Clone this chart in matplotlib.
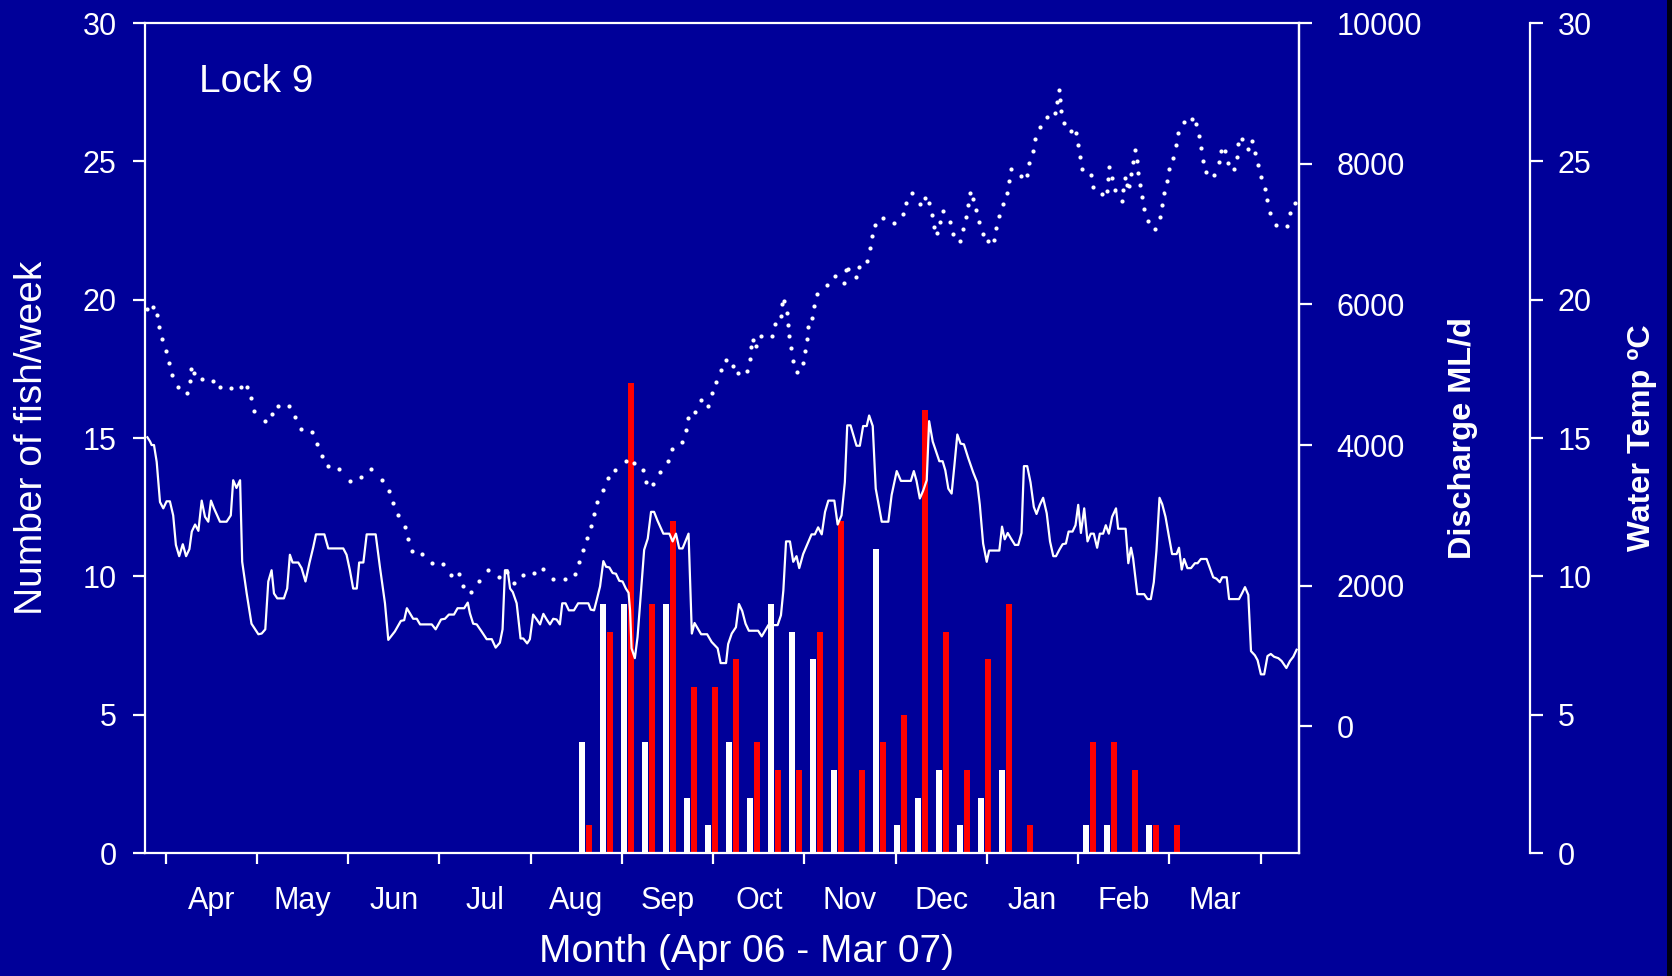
import matplotlib
matplotlib.use('Agg')
import matplotlib.pyplot as plt
from matplotlib.patches import Rectangle
from matplotlib.ticker import FixedLocator, NullFormatter

# ---------------- data ----------------
# day 0 = 1 April 2006
month_labels = ['Apr', 'May', 'Jun', 'Jul', 'Aug', 'Sep', 'Oct', 'Nov', 'Dec', 'Jan', 'Feb', 'Mar']

week_day = [138.8, 145.8, 152.8, 159.8, 166.8, 173.8, 180.8, 187.8, 194.8, 201.8,
            208.8, 215.8, 222.8, 229.8, 236.8, 243.8, 250.8, 257.8, 264.8, 271.8,
            278.8, 285.8, 292.8, 299.8, 306.8, 313.8, 320.8, 327.8, 334.8]
fish_white = [4, 9, 9, 4, 9, 2, 1, 4, 2, 9, 8, 7, 3, 0, 11, 1, 2, 3, 1, 2, 3, 0, 0, 0, 1, 1, 0, 1, 0]
fish_red = [1, 8, 17, 9, 12, 6, 6, 7, 4, 3, 3, 8, 12, 3, 4, 5, 16, 8, 3, 7, 9, 1, 0, 0, 4, 4, 3, 1, 1]

q_day = [-6.1, -5.2, -4.7, -3.9, -3.0, -1.9, -0.8, 0.3, 1.4, 2.5, 3.4, 4.5, 5.7, 6.8, 7.9, 8.7,
         9.8, 10.9, 12.0, 13.1, 14.2, 15.1, 16.1, 18.1, 20.3, 21.7, 22.5, 23.6, 24.8, 25.5, 27.0,
         28.6, 30.9, 32.0, 33.2, 34.2, 35.3, 36.1, 37.2, 39.4, 40.5, 41.4, 42.3, 44.2, 45.3, 46.6,
         47.9, 49.2, 50.1, 52.9, 54.2,
         59.2, 60.3, 61.4, 62.5, 63.7, 64.5, 65.9, 67.0, 70.0, 71.4, 73.1, 74.2, 76.4, 78.4, 79.5,
         80.4, 81.8, 82.5, 83.7, 84.8, 88.7, 90.0, 91.8, 93.1, 94.4, 96.1, 97.3, 99.5, 100.7, 101.4,
         102.5, 103.7, 105.3, 107.0, 108.7, 110.0, 111.4, 112.3, 113.1, 114.0, 114.8, 115.7, 117.0,
         118.3, 119.2, 120.5, 121.4, 122.5,
         123.7, 124.8, 125.9, 127.0, 128.1, 129.2, 130.3, 131.4, 132.2, 133.3, 134.4, 136.1, 137.5,
         140.9, 141.7, 142.8, 143.7, 144.8, 145.9, 146.8, 147.9, 149.0, 150.1, 151.2, 152.3, 153.4,
         154.3, 154.8, 155.3, 156.4, 157.3, 158.4, 159.5, 160.7, 161.8, 162.8, 163.9, 165.9, 167.9,
         169.0, 170.1, 171.2, 172.3, 174.3, 175.4, 176.3, 178.5, 180.5, 182.0, 184.0, 185.0, 186.8,
         187.5, 188.7, 190.1, 191.1, 192.2, 193.3, 194.4, 197.5, 198.7, 200.9, 204.0, 205.1, 205.9,
         206.8, 208.1, 209.2, 210.3, 211.2, 212.5, 215.3, 216.4, 217.5, 218.7, 219.8, 220.9, 222.9,
         224.0, 225.3, 226.4, 227.2, 228.3, 230.3, 231.4, 232.5, 233.7, 234.5, 235.7, 236.7, 238.7,
         240.9, 242.0, 243.7, 245.1, 248.4, 249.4, 250.3, 251.4,
         252.5, 253.7, 254.5, 255.7, 256.8, 257.9, 259.0, 259.9, 260.9, 262.0, 262.9, 263.9, 265.0,
         266.1, 267.5, 269.2, 270.5, 271.4, 272.5, 273.7, 274.5, 277.9, 278.8, 279.7, 280.7, 281.8,
         283.1, 284.2, 285.3, 286.1, 287.2, 288.3, 289.4, 290.3, 291.4, 292.5, 293.7, 294.8, 295.9,
         296.8, 297.9, 299.0, 300.1, 301.0, 302.3, 303.3, 304.2, 305.1, 306.2, 307.3, 308.4, 309.4,
         310.5, 311.4, 312.5, 313.4, 314.4, 315.5, 316.8,
         317.5, 320.0, 320.9, 321.8, 322.5, 323.9, 326.2, 327.3, 328.4, 329.4, 330.3, 331.3, 332.2,
         333.3, 334.4, 335.5, 337.0, 337.8, 338.7, 339.5, 340.6, 341.8, 343.1, 344.0, 345.1, 347.0,
         348.1, 349.2, 350.3, 351.4, 352.2, 353.7, 354.5, 357.8, 358.9, 359.8, 360.9, 361.8, 363.1,
         364.0, 365.1, 366.2, 367.3, 368.4, 369.5, 370.9, 372.0, 373.6, 374.8, 375.9, 377.0]
q_val = [4110, 4050, 4000, 4000, 3760, 3190, 3100, 3200, 3200, 3000, 2580, 2420, 2590, 2420, 2520, 2770,
         2870, 2780, 3210, 2980, 2910, 3210, 3100, 2910, 2910, 3000, 3500, 3390, 3500, 2340, 1890,
         1460, 1310, 1320, 1380, 2060, 2220, 1890, 1820, 1820, 1960, 2440, 2330, 2330, 2250, 2060,
         2320, 2550, 2730, 2730, 2530,
         2530, 2440, 2220, 1960, 1960, 2330, 2330, 2730, 2730, 2270, 1750, 1230, 1350, 1500, 1510,
         1680, 1580, 1530, 1530, 1450, 1450, 1380, 1520, 1530, 1590, 1590, 1680, 1680, 1760, 1610,
         1460, 1450, 1350, 1240, 1240, 1120, 1190, 1380, 2220, 2220, 1960, 1910, 1750,
         1250, 1250, 1180, 1240, 1590,
         1520, 1450, 1600, 1520, 1450, 1530, 1520, 1450, 1750, 1750, 1650, 1650, 1750,
         1750, 1660, 1650, 1800, 1990, 2350, 2270, 2260, 2180, 2170, 2070, 2060, 1960,
         1900, 1650, 1110, 970, 1270, 1890, 2510, 2670, 3050, 3050, 2930, 2740, 2740,
         2630, 2740, 2530, 2530, 2740, 1320, 1470, 1310, 1310, 1200, 1110, 900, 900,
         1170, 1320, 1410, 1740, 1640, 1460, 1360, 1360, 1280, 1440, 1440, 1580, 1930,
         2630, 2630, 2340, 2420, 2250, 2450, 2730, 2730, 2830, 2730, 3050, 3210, 3210,
         2870, 3000, 3470, 4280, 4280, 3990, 3990, 4270, 4270, 4420, 4270, 3380, 2910,
         2910, 3290, 3630, 3490, 3490, 3630, 3490, 3240,
         3350, 3500, 4340, 4050, 3910, 3770, 3770, 3640, 3380, 3310, 3700, 4150, 4020,
         4010, 3820, 3610, 3470, 3150, 2600, 2340, 2500, 2500, 2840, 2660, 2750, 2670,
         2580, 2580, 2750, 3700, 3700, 3470, 3120, 3020, 3150, 3250, 3030, 2630, 2420,
         2420, 2510, 2590, 2600, 2770, 2770, 2860, 3150, 2750, 3100, 2630, 2740, 2740,
         2540, 2740, 2740, 2860, 2740, 2980, 3100,
         2810, 2810, 2320, 2540, 2390, 1880, 1880, 1810, 1810, 2050, 2510, 3250, 3160,
         2980, 2710, 2450, 2450, 2540, 2230, 2380, 2250, 2250, 2320, 2320, 2380, 2380,
         2250, 2120, 2100, 2050, 2120, 2120, 1810, 1810, 1900, 1980, 1870, 1070, 1010,
         940, 740, 740, 1000, 1030, 990, 970, 930, 830, 930, 990, 1090]

t_day = [-6.1, -4.1, -3.0, -2.2, -1.2, 0.0, 1.1, 2.2, 4.1, 7.0, 8.1, 8.5, 9.4, 12.1, 15.7, 18.1,
         21.7, 25.0, 27.2, 28.4, 29.5, 33.1, 35.4, 37.4, 41.2, 43.0, 45.2, 48.9, 50.5, 52.0, 54.0,
         57.9, 61.3, 65.2, 68.4, 72.0, 74.4, 75.7, 77.5, 79.8, 80.9, 82.1, 85.5, 88.9, 92.5, 95.2,
         97.9, 99.2, 101.8, 104.4, 107.4, 111.2, 113.7, 116.2, 119.0,
         122.8, 125.9, 129.2, 133.1, 136.4, 137.9, 139.2, 140.5, 141.9, 142.9, 143.7, 145.7, 147.5,
         149.8, 153.4, 156.2, 159.0, 160.1, 162.5, 164.7, 167.4, 168.9, 172.2, 173.3, 174.2, 176.4,
         178.3, 180.9, 182.2, 183.3, 185.0,
         186.8, 189.2, 190.9, 193.7, 194.7, 195.1, 195.7, 196.7, 198.3, 202.0, 203.1, 205.1, 205.5,
         206.2, 207.0, 207.5, 207.9, 208.4, 209.1, 210.3, 212.3, 213.1, 213.7, 214.2, 215.5, 216.2,
         217.2, 220.3, 223.1, 226.1, 226.8, 227.5, 230.0, 231.2, 233.8, 234.8, 235.4, 236.5, 239.1,
         242.8, 245.7, 246.7, 248.7,
         251.4, 253.1, 254.5, 255.3, 256.0, 257.1, 258.1, 259.1, 261.3, 262.3, 264.7, 265.8, 266.7,
         267.4, 268.0, 269.0, 270.0, 271.1, 272.5, 274.2, 276.0, 276.9, 277.8, 279.1, 280.3, 281.0,
         281.9, 285.2, 287.0, 287.8, 289.0, 289.9, 291.3, 293.7, 296.4, 297.1, 297.7, 298.0, 298.5,
         299.3, 301.8, 303.4, 304.1, 304.8, 305.5, 308.4, 309.1, 312.0, 313.8, 314.2, 314.5, 315.4,
         316.5,
         318.7, 319.2, 319.8, 320.3, 321.1, 321.9, 322.5, 323.1, 323.8, 324.1, 324.7, 325.3, 326.1,
         327.4, 329.7, 331.3, 332.0, 332.8, 333.8, 334.3, 335.9, 336.7, 337.4, 339.3, 342.2, 343.5,
         344.3, 345.1, 345.8, 346.8, 349.6, 351.0, 351.9, 353.0, 354.1, 356.1, 357.0, 357.4, 358.8,
         360.9, 362.0, 363.0, 364.2, 365.3, 366.5, 367.2, 368.1, 370.2, 373.8, 374.8, 376.5]
t_val = [19.68, 19.72, 19.44, 19.01, 18.57, 18.15, 17.70, 17.27, 16.85, 16.62, 17.05, 17.49, 17.36,
         17.14, 17.05, 16.84, 16.81, 16.86, 16.86, 16.43, 15.99, 15.62, 15.87, 16.15, 16.17, 15.75,
         15.32, 15.21, 14.79, 14.35, 14.00,
         13.88, 13.46, 13.59, 13.87, 13.50, 13.09, 12.65, 12.22, 11.78, 11.36, 10.92, 10.82, 10.47,
         10.46, 10.05, 10.08, 9.66, 9.42, 9.84, 10.23, 9.96, 10.17, 9.75, 10.05,
         10.13, 10.25, 9.90, 9.90, 10.08, 10.51, 10.94, 11.37, 11.81, 12.24, 12.68, 13.11, 13.55,
         13.86, 14.18, 14.11, 13.86, 13.42, 13.35, 13.78, 14.18, 14.62, 14.86, 15.29, 15.72, 15.93,
         16.39, 16.17, 16.61, 17.04, 17.47,
         17.83, 17.60, 17.34, 17.43, 17.85, 18.30, 18.56, 18.34, 18.67, 18.67, 19.11, 19.41, 19.85,
         19.97, 19.52, 19.10, 18.67, 18.24, 17.80, 17.38, 17.71, 18.15, 18.58, 19.01, 19.35, 19.78,
         20.20, 20.53, 20.84, 20.62, 21.06, 21.12, 20.81, 21.19, 21.41, 21.86, 22.29, 22.71, 22.96,
         22.77, 23.08, 23.50, 23.85,
         23.44, 23.69, 23.50, 23.07, 22.64, 22.40, 22.82, 23.20, 22.79, 22.36, 22.12, 22.55, 22.98,
         23.41, 23.85, 23.64, 23.23, 22.80, 22.39, 22.11, 22.14, 22.58, 23.01, 23.44, 23.86, 24.29,
         24.74, 24.46, 24.49, 24.93, 25.36, 25.79, 26.23, 26.60, 26.74, 27.15, 27.59, 27.23, 26.81,
         26.38, 26.11, 26.02, 25.59, 25.15, 24.72, 24.50, 24.07, 23.82, 23.94, 24.37, 24.81, 24.41,
         23.98,
         23.56, 23.98, 24.41, 24.15, 24.12, 24.54, 24.99, 25.40, 25.00, 24.57, 24.15, 23.70, 23.27,
         22.83, 22.55, 22.98, 23.41, 23.85, 24.28, 24.72, 25.13, 25.58, 26.01, 26.42, 26.52, 26.35,
         25.90, 25.47, 25.03, 24.60, 24.52, 24.96, 25.39, 25.37, 24.94, 24.74, 25.17, 25.61, 25.79,
         25.45, 25.73, 25.31, 24.88, 24.44, 24.01, 23.59, 23.14, 22.71, 22.68, 23.13, 23.51]

fish_ticks = [0, 5, 10, 15, 20, 25, 30]
q_ticks = [0, 2000, 4000, 6000, 8000, 10000]
temp_ticks = [0, 5, 10, 15, 20, 25, 30]

# ---------------- style ----------------
BG = '#000099'
FG = 'white'
plt.rcParams['font.family'] = ['Liberation Sans', 'DejaVu Sans']
LW = 1.6

fig = plt.figure(figsize=(16.72, 9.76), dpi=100, facecolor=BG)
ax = fig.add_axes([0.08672, 0.12602, 0.69019, 0.85041])
ax.set_facecolor(BG)

# bars
ax.bar([d for d in week_day], fish_white, width=1.9, color='white', linewidth=0, zorder=2)
ax.bar([d + 2.22 for d in week_day], fish_red, width=1.9, color='#ff0000', linewidth=0, zorder=2)

ax.set_xlim(-6.9, 377.8)
ax.set_ylim(0, 30)
ax.set_yticks(fish_ticks)
ax.tick_params(axis='y', colors=FG, labelsize=22, length=8.5, width=LW, pad=12, direction='out')

month_len = 365 / 12
ax.xaxis.set_major_locator(FixedLocator([k * month_len for k in range(13)]))
ax.xaxis.set_major_formatter(NullFormatter())
ax.xaxis.set_minor_locator(FixedLocator([(k + 0.5) * month_len for k in range(12)]))
ax.set_xticklabels(month_labels, minor=True)
ax.tick_params(axis='x', which='major', colors=FG, length=8, width=LW, direction='out')
ax.tick_params(axis='x', which='minor', colors=FG, length=0, labelsize=22, pad=24)
for s in ax.spines.values():
    s.set_color(FG)
    s.set_linewidth(LW)

ax.set_ylabel('Number of fish/week', fontsize=28, color=FG, va='center')
ax.yaxis.set_label_coords(-0.0979, 0.5)
ax.set_xlabel('Month (Apr 06 - Mar 07)', fontsize=28, color=FG, va='center')
ax.xaxis.set_label_coords(0.5212, -0.1193)
ax.text(0.0466, 0.9172, 'Lock 9', transform=ax.transAxes, fontsize=28, color=FG,
        ha='left', va='baseline')

# discharge axis
ax2 = ax.twinx()
ax2.plot(q_day, q_val, color=FG, lw=1.6, zorder=3)
ax2.set_ylim(-1800, 10000)
ax2.set_yticks(q_ticks)
ax2.set_yticklabels([str(v) for v in q_ticks])
ax2.tick_params(axis='y', colors=FG, labelsize=22, length=9.4, width=LW, pad=17.6, direction='out')
for k, s in ax2.spines.items():
    s.set_visible(k == 'right')
    s.set_color(FG)
    s.set_linewidth(LW)
ax2.set_ylabel('Discharge ML/d', fontsize=23.4, fontweight='bold', color=FG, va='center',
               rotation=90)
ax2.yaxis.set_label_coords(1.1421, 0.5)

# water temperature axis
ax3 = ax.twinx()
ax3.plot(t_day, t_val, linestyle='none', marker='o', markersize=3.0,
         markerfacecolor=FG, markeredgewidth=0, zorder=3)
ax3.set_ylim(0, 30)
ax3.set_yticks(temp_ticks)
ax3.spines['right'].set_position(('axes', 1.2002))
for k, s in ax3.spines.items():
    s.set_visible(k == 'right')
    s.set_color(FG)
    s.set_linewidth(LW)
ax3.tick_params(axis='y', colors=FG, labelsize=22, length=9.4, width=LW, pad=10.4, direction='out')
ax3.set_ylabel('Water Temp \u00baC', fontsize=23.4, fontweight='bold', color=FG, va='center',
               rotation=90)
ax3.yaxis.set_label_coords(1.2972, 0.5)

# dark strip at the right edge of the slide
fig.add_artist(Rectangle((1667 / 1672, 0), 5 / 1672, 1, transform=fig.transFigure,
                         facecolor='#000010', edgecolor='none'))

fig.savefig('out.png', dpi=100, facecolor=BG)
